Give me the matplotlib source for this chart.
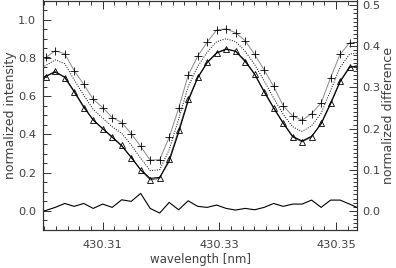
import matplotlib
matplotlib.use("Agg")
import matplotlib.pyplot as plt
from matplotlib.ticker import MultipleLocator, FixedLocator

# sampled wavelengths (nm)
wavelength = [430.29862, 430.30025, 430.30187, 430.30350, 430.30513, 430.30676,
              430.30839, 430.31001, 430.31164, 430.31327, 430.31490, 430.31652,
              430.31815, 430.31978, 430.32141, 430.32303, 430.32466, 430.32629,
              430.32792, 430.32954, 430.33117, 430.33280, 430.33443, 430.33606,
              430.33768, 430.33931, 430.34094, 430.34257, 430.34419, 430.34582,
              430.34745, 430.34908, 430.35070, 430.35233, 430.35396]

# observed profile (plus symbols)
obs_plus = [0.766, 0.802, 0.837, 0.822, 0.733, 0.662, 0.583, 0.540, 0.488, 0.462,
            0.403, 0.337, 0.265, 0.268, 0.385, 0.536, 0.709, 0.809, 0.882, 0.946,
            0.952, 0.931, 0.890, 0.818, 0.737, 0.651, 0.550, 0.496, 0.474, 0.509,
            0.564, 0.697, 0.818, 0.879, 0.881]

# dotted profile
mean_prof = [0.730, 0.760, 0.790, 0.770, 0.685, 0.605, 0.530, 0.485, 0.440, 0.405,
             0.345, 0.275, 0.210, 0.215, 0.320, 0.480, 0.650, 0.755, 0.830, 0.885,
             0.900, 0.885, 0.835, 0.765, 0.680, 0.590, 0.505, 0.440, 0.415, 0.445,
             0.510, 0.630, 0.750, 0.820, 0.825]

# observed profile (triangles)
obs_tri = [0.677, 0.701, 0.731, 0.697, 0.620, 0.540, 0.475, 0.430, 0.388, 0.342,
           0.279, 0.214, 0.162, 0.170, 0.270, 0.422, 0.583, 0.698, 0.778, 0.827,
           0.848, 0.834, 0.779, 0.714, 0.621, 0.536, 0.458, 0.386, 0.361, 0.386,
           0.458, 0.566, 0.679, 0.754, 0.757]

# fitted profile (solid)
fit_prof = [0.680, 0.705, 0.725, 0.700, 0.625, 0.545, 0.475, 0.430, 0.385, 0.340,
            0.280, 0.215, 0.170, 0.175, 0.260, 0.410, 0.575, 0.695, 0.775, 0.825,
            0.845, 0.835, 0.785, 0.715, 0.625, 0.540, 0.460, 0.390, 0.365, 0.390,
            0.455, 0.560, 0.675, 0.750, 0.760]

# difference (right axis)
difference = [-0.004, 0.001, 0.0085, 0.018, 0.011, 0.018, 0.006, 0.0165, 0.0085, 0.0269,
              0.0231, 0.0425, 0.006, -0.0053, 0.0206, 0.0027, 0.0245, 0.011, 0.0085, 0.0141,
              0.006, 0.002, 0.006, 0.0027, 0.0085, 0.018, 0.011, 0.0165, 0.0165, 0.0262,
              0.0085, 0.0262, 0.0262, 0.0165, 0.006]

x_ticks = [430.31, 430.33, 430.35]

plt.rcParams['font.family'] = ['DejaVu Sans']
txt = '#404040'

fig = plt.figure(figsize=(3.96, 2.68), dpi=100)
ax = fig.add_axes([43/396, 38/268, 314/396, 229.5/268])

ax.plot(wavelength, obs_plus, color='#8a8a8a', lw=0.7, marker='+', ms=5.5,
        mec='black', mew=0.6)
ax.plot(wavelength, mean_prof, color='black', lw=0.7, ls=(0, (1, 1.5)))
ax.plot(wavelength, obs_tri, color='#555555', lw=0.7, marker='^', ms=4.5,
        mfc='none', mec='black', mew=0.6)
ax.plot(wavelength, fit_prof, color='black', lw=0.8)

ax.set_xlim(430.29978, 430.3536)
ax.set_ylim(-0.1, 1.1)
ax.xaxis.set_major_locator(FixedLocator(x_ticks))
ax.xaxis.set_minor_locator(MultipleLocator(0.002))
ax.yaxis.set_major_locator(MultipleLocator(0.2))
ax.yaxis.set_minor_locator(MultipleLocator(0.05))
ax.xaxis.set_major_formatter(plt.FuncFormatter(lambda v, p: f"{v:.2f}"))
ax.yaxis.set_major_formatter(plt.FuncFormatter(lambda v, p: f"{v:.1f}"))
ax.tick_params(which='both', direction='in', top=True, right=False,
               labelsize=8.2, labelcolor=txt, width=0.7, color='#333333')
ax.tick_params(which='major', length=6)
ax.tick_params(which='minor', length=3)
ax.tick_params(axis='x', pad=7)
ax.tick_params(axis='y', pad=5)
for s in ax.spines.values():
    s.set_linewidth(0.8)
    s.set_color('#333333')

ax.set_xlabel('wavelength [nm]', fontsize=8.5, color=txt, labelpad=2)
ax.set_ylabel('normalized intensity', fontsize=9, color=txt)
ax.yaxis.set_label_coords(-0.083, 0.5)

ax2 = ax.twinx()
ax2.plot(wavelength, difference, color='black', lw=0.8)
ax2.set_ylim(-0.0465, 0.5115)
ax2.yaxis.set_major_locator(MultipleLocator(0.1))
ax2.yaxis.set_minor_locator(MultipleLocator(0.01))
ax2.yaxis.set_major_formatter(plt.FuncFormatter(lambda v, p: f"{v:.1f}"))
ax2.tick_params(which='both', direction='in', labelsize=8.2, labelcolor=txt,
                width=0.7, color='#333333', pad=4)
ax2.tick_params(which='major', length=6)
ax2.tick_params(which='minor', length=3)
ax2.set_ylabel('normalized difference', fontsize=9, color=txt)
ax2.yaxis.set_label_coords(1.081, 0.5)
for s in ax2.spines.values():
    s.set_linewidth(0.8)
    s.set_color('#333333')

fig.savefig('out.png', dpi=100)
